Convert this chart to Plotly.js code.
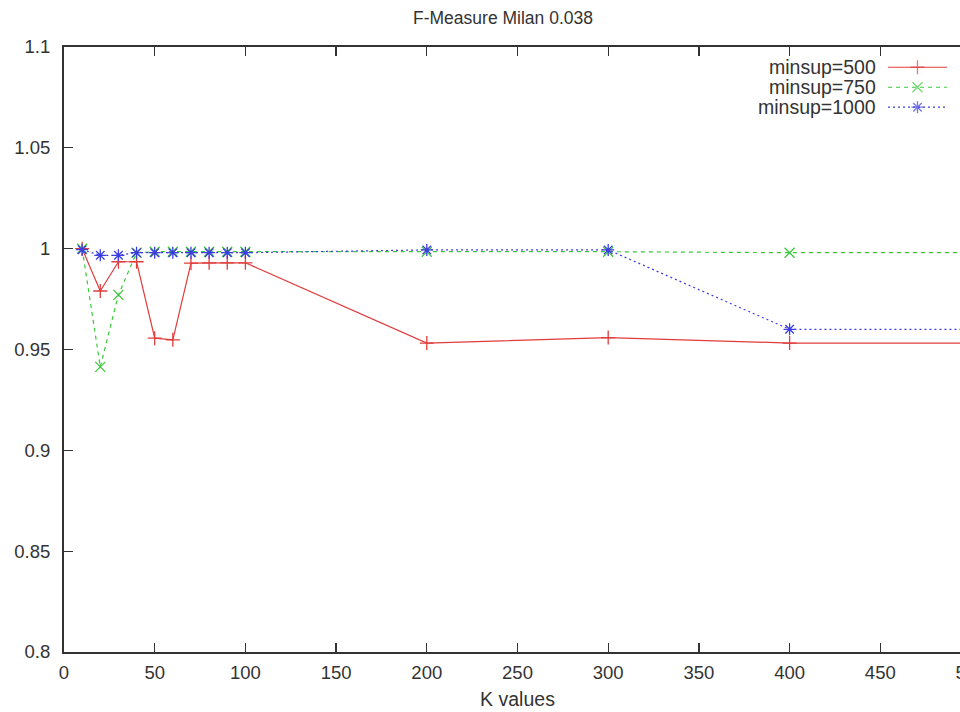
<!DOCTYPE html>
<html>
<head>
<meta charset="utf-8">
<script src="https://cdn.plot.ly/plotly-3.0.1.min.js"></script>
<style>
html, body { margin: 0; padding: 0; overflow: hidden; background: #fff; }
#chart { width: 1000px; height: 712px; }
</style>
</head>
<body>
<div id="chart"></div>
<script>
// ---- data ----
const kValues = [10, 20, 30, 40, 50, 60, 70, 80, 90, 100, 200, 300, 400, 500];
const minsup500 = [1.000, 0.979, 0.9935, 0.9935, 0.9556, 0.9548, 0.9928, 0.993, 0.993, 0.993, 0.9532, 0.9559, 0.9532, 0.9532];
const minsup750 = [1.000, 0.9414, 0.9771, 0.998, 0.9985, 0.9985, 0.9985, 0.9985, 0.9985, 0.9985, 0.9985, 0.9985, 0.998, 0.998];
const minsup1000 = [0.9995, 0.9967, 0.9967, 0.998, 0.998, 0.998, 0.998, 0.998, 0.998, 0.998, 0.9994, 0.9994, 0.960, 0.960];
const seriesNames = ["minsup=500", "minsup=750", "minsup=1000"];
const xTicks = [0, 50, 100, 150, 200, 250, 300, 350, 400, 450, 500];
const yTicks = [0.8, 0.85, 0.9, 0.95, 1, 1.05, 1.1];
const legendRows = [0, 1, 2];
const legendSampleX = [0, 0.5, 1];

const colors = ["#e03c3c", "#3cc83c", "#3c3ce0"];
const dashes = ["solid", "4px,4px", "2px,3px"];
const symbols = ["cross-thin-open", "x-thin-open", "asterisk-open"];
const font = "Liberation Sans, Arial, Helvetica, sans-serif";
const textColor = "#333333";

const seriesValues = [minsup500, minsup750, minsup1000];

const traces = seriesValues.map((vals, i) => ({
  type: "scatter",
  mode: "lines+markers",
  name: seriesNames[i],
  x: kValues,
  y: vals,
  line: { color: colors[i], width: 1.2, dash: dashes[i] },
  marker: { symbol: symbols[i], size: 10, color: colors[i], line: { color: colors[i], width: 1.3 } },
  showlegend: false,
  cliponaxis: false
}));

// gnuplot-style key: label on the left, sample on the right
legendRows.forEach((r, i) => {
  traces.push({
    type: "scatter",
    mode: "lines+markers",
    x: legendSampleX,
    y: legendSampleX.map(() => r),
    xaxis: "x2",
    yaxis: "y2",
    line: { color: colors[i], width: 1.2, dash: dashes[i] },
    marker: { symbol: symbols[i], size: legendSampleX.map((_, j) => j === 1 ? 10 : 0), color: colors[i], line: { color: colors[i], width: 1.3 } },
    showlegend: false,
    hoverinfo: "skip"
  });
});

const annotations = legendRows.map((r, i) => ({
  xref: "x2", yref: "y2", x: 0, y: r,
  xanchor: "right", yanchor: "middle", xshift: -10,
  text: seriesNames[i], showarrow: false,
  font: { family: font, size: 19.5, color: textColor }
}));

const axisCommon = {
  showline: true, linecolor: "#333333", linewidth: 2, mirror: "ticks",
  ticks: "inside", ticklen: 9, tickwidth: 1.3, tickcolor: "#333333",
  showgrid: false, zeroline: false,
  tickfont: { family: font, size: 18.5, color: textColor }
};

const layout = {
  width: 1000, height: 712,
  margin: { l: 64, r: 29, t: 47, b: 60 },
  paper_bgcolor: "#ffffff", plot_bgcolor: "#ffffff",
  showlegend: false,
  title: {
    text: "F-Measure Milan 0.038",
    xref: "container", x: 0.503, xanchor: "center",
    yref: "container", y: 0.975, yanchor: "middle",
    font: { family: font, size: 17.5, color: textColor }
  },
  xaxis: Object.assign({}, axisCommon, {
    range: [0, 500], tickvals: xTicks, ticktext: xTicks.map(String),
    ticklabelstandoff: 3,
    title: { text: "K values", standoff: 10, font: { family: font, size: 19.5, color: textColor } }
  }),
  yaxis: Object.assign({}, axisCommon, {
    range: [0.8, 1.1], tickvals: yTicks, ticktext: yTicks.map(String),
    ticklabelstandoff: 8
  }),
  xaxis2: { domain: [0.9085, 0.9735], range: [0, 1], anchor: "y2", visible: false, fixedrange: true },
  yaxis2: { domain: [0.884, 0.983], range: [2.5, -0.5], anchor: "x2", visible: false, fixedrange: true },
  annotations: annotations
};

Plotly.newPlot("chart", traces, layout, { displayModeBar: false, staticPlot: true });
</script>
</body>
</html>
